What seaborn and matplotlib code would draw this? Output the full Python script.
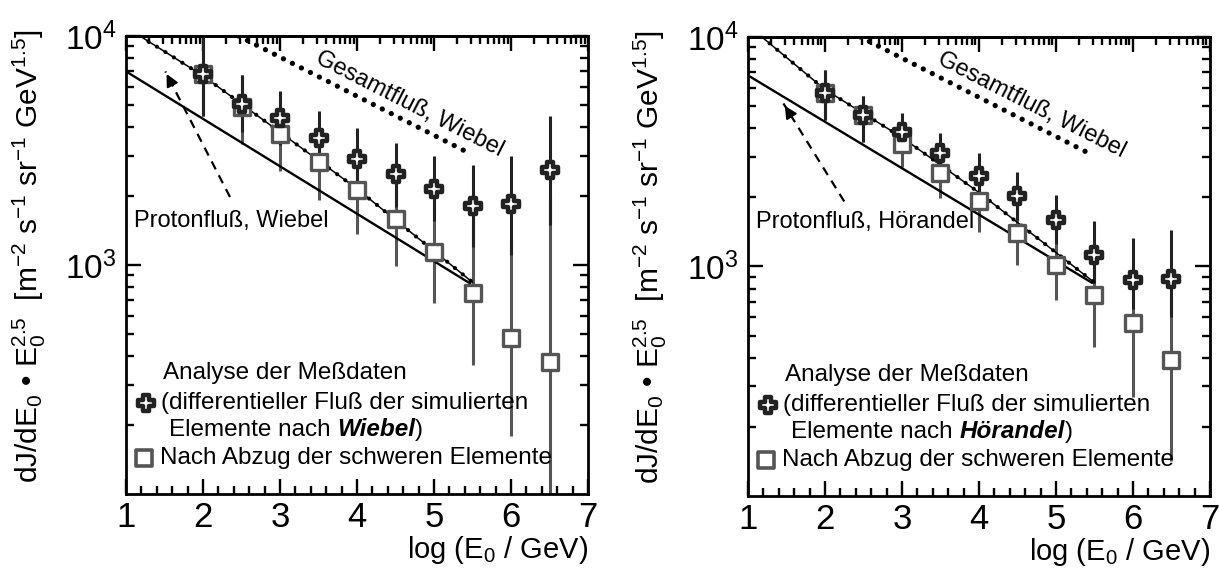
import matplotlib
matplotlib.use('Agg')
import matplotlib.pyplot as plt
import seaborn as sns
import pandas as pd
from matplotlib.ticker import MultipleLocator, FixedLocator, NullFormatter

# log(E0/GeV) of the measured points
energies = [2.0, 2.5, 3.0, 3.5, 4.0, 4.5, 5.0, 5.5, 6.0, 6.5]

# left panel: heavy elements after Wiebel
wiebel_cross = [6810, 5045, 4385, 3580, 2900, 2505, 2155, 1810, 1842, 2608]
wiebel_cross_hi = [12000, 6770, 5730, 4720, 3960, 3410, 2980, 2740, 3000, 4490]
wiebel_cross_lo = [4490, 3800, 3350, 2700, 2100, 1800, 1550, 1200, 1100, 1500]
wiebel_square = [6810, 4910, 3730, 2810, 2120, 1585, 1135, 753, 480, 378]
wiebel_square_hi = [12000, 6770, 5300, 4100, 3300, 2550, 1900, 1550, 1300, 2000]
wiebel_square_lo = [4490, 3380, 2570, 1930, 1360, 985, 685, 367, 179, 60]

# right panel: heavy elements after Hörandel
hoer_cross = [5710, 4560, 3860, 3135, 2480, 2030, 1595, 1125, 876, 880]
hoer_cross_hi = [7165, 5520, 4645, 3800, 3110, 2590, 2050, 1585, 1330, 1443]
hoer_cross_lo = [4350, 3495, 3300, 2600, 2000, 1600, 1250, 850, 650, 600]
hoer_square = [5710, 4560, 3410, 2565, 1920, 1397, 1010, 754, 567, 393]
hoer_square_hi = [7165, 5520, 4200, 3300, 2600, 2000, 1500, 1100, 900, 800]
hoer_square_lo = [4350, 3495, 2720, 1980, 1420, 1016, 713, 445, 269, 142]

# reference curves
proton_x = [1.0, 5.47]
wiebel_proton_y = [7000, 830]
hoer_proton_y = [6800, 848]
fit_x = [1.18, 2.0, 3.0, 4.0, 5.0, 5.5]
wiebel_fit_y = [10000, 6700, 3800, 2150, 1150, 840]
hoer_fit_y = [10000, 5900, 3650, 2100, 1150, 850]
total_x = [2.46, 5.39]
total_y = [10000, 3160]

# arrow (tail, head) for the proton flux label
wiebel_arrow = [(2.35, 1980), (1.51, 7000)]
hoer_arrow = [(2.25, 1920), (1.46, 5130)]

panels = [
    dict(cross=wiebel_cross, cross_hi=wiebel_cross_hi, cross_lo=wiebel_cross_lo,
         square=wiebel_square, square_hi=wiebel_square_hi, square_lo=wiebel_square_lo,
         proton=wiebel_proton_y, fit=wiebel_fit_y, arrow=wiebel_arrow,
         label='Protonfluß, Wiebel', model='Wiebel',
         rect=[0.1034, 0.1349, 0.379, 0.8021]),
    dict(cross=hoer_cross, cross_hi=hoer_cross_hi, cross_lo=hoer_cross_lo,
         square=hoer_square, square_hi=hoer_square_hi, square_lo=hoer_square_lo,
         proton=hoer_proton_y, fit=hoer_fit_y, arrow=hoer_arrow,
         label='Protonfluß, Hörandel', model='Hörandel',
         rect=[0.6136, 0.1314, 0.379, 0.8039]),
]

sns.set_theme(style='ticks')
plt.rcParams['font.family'] = ['Liberation Sans', 'DejaVu Sans']
plt.rcParams['mathtext.fontset'] = 'custom'
plt.rcParams['mathtext.rm'] = 'Liberation Sans'
plt.rcParams['mathtext.it'] = 'Liberation Sans:italic'
plt.rcParams['mathtext.bf'] = 'Liberation Sans:bold'
for key in ['text.color', 'axes.labelcolor', 'xtick.color', 'ytick.color', 'axes.edgecolor']:
    plt.rcParams[key] = 'black'

dark = '#222222'
grey = '#555555'

fig = plt.figure(figsize=(12.19, 5.71), dpi=100)
fig.set_facecolor('white')

for p in panels:
    ax = fig.add_axes(p['rect'])
    ax.set_facecolor('white')
    ax.set_yscale('log')

    # error bars
    ax.vlines(energies, p['square_lo'], p['square_hi'], colors=grey, lw=2.2, zorder=2)
    ax.vlines(energies, p['cross_lo'], p['cross_hi'], colors=dark, lw=2.2, zorder=2)

    # model curves
    sns.lineplot(x=proton_x, y=p['proton'], ax=ax, color='black', lw=1.7, zorder=3)
    sns.lineplot(x=fit_x, y=p['fit'], ax=ax, color='black', lw=1.1, zorder=3)
    sns.lineplot(x=fit_x, y=p['fit'], ax=ax, color='black', lw=3.0,
                 linestyle=(0, (0.01, 2.4)), dash_capstyle='round', zorder=3)
    sns.lineplot(x=total_x, y=total_y, ax=ax, color='black', lw=3.8,
                 linestyle=(0, (0.01, 1.9)), dash_capstyle='round', zorder=3)

    # data points
    df = pd.DataFrame({'E': energies, 'cross': p['cross'], 'square': p['square']})
    sns.scatterplot(data=df, x='E', y='square', ax=ax, marker='s', s=120,
                    color='white', edgecolor=grey, linewidth=2.4, zorder=4)
    sns.scatterplot(data=df, x='E', y='cross', ax=ax, marker='P', s=140,
                    color='white', edgecolor=dark, linewidth=3.2, zorder=5)

    # arrow to the proton line
    (tx, ty), (hx, hy) = p['arrow']
    ax.plot([tx, hx], [ty, hy], color='black', lw=1.6, linestyle=(0, (4, 3)), zorder=3)
    ax.annotate('', xy=(hx, hy), xytext=(hx + (tx - hx) * 0.08, hy * (ty / hy) ** 0.08),
                arrowprops=dict(arrowstyle='-|>', color='black', lw=1.5, mutation_scale=18))

    ax.text(1.1, 1560, p['label'], fontsize=17, ha='left', va='center')
    ax.text(4.68, 5050, 'Gesamtfluß, Wiebel', fontsize=17, ha='center', va='center',
            rotation=-27, rotation_mode='anchor')

    # legend by hand
    ax.scatter([0.043], [0.199], transform=ax.transAxes, marker='P', s=140,
               color='white', edgecolor=dark, linewidth=3.2, zorder=6)
    ax.scatter([0.039], [0.079], transform=ax.transAxes, marker='s', s=130,
               color='white', edgecolor=grey, linewidth=2.6, zorder=6)
    fs = 17.5
    ax.text(0.080, 0.264, 'Analyse der Meßdaten', transform=ax.transAxes,
            fontsize=fs, va='center')
    ax.text(0.076, 0.199, '(differentieller Fluß der simulierten', transform=ax.transAxes,
            fontsize=fs, va='center')
    t1 = ax.text(0.093, 0.140, 'Elemente nach ', transform=ax.transAxes,
                 fontsize=fs, va='center')
    t2 = ax.annotate(p['model'], xy=(1, 0), xycoords=t1, va='bottom', fontsize=fs,
                     fontweight='bold', fontstyle='italic')
    ax.annotate(')', xy=(1, 0), xycoords=t2, va='bottom', fontsize=fs)
    ax.text(0.074, 0.079, 'Nach Abzug der schweren Elemente', transform=ax.transAxes,
            fontsize=fs, va='center')

    # axes, ticks
    ax.set_xlim(1, 7)
    ax.set_ylim(100, 10000)
    ax.xaxis.set_major_locator(MultipleLocator(1))
    ax.xaxis.set_minor_locator(MultipleLocator(0.2))
    ax.yaxis.set_major_locator(FixedLocator([1e3, 1e4]))
    ax.yaxis.set_minor_locator(FixedLocator([k * 10 ** d for d in (2, 3) for k in range(2, 10)]))
    ax.yaxis.set_minor_formatter(NullFormatter())
    ax.tick_params(which='both', direction='in', left=True, right=True, top=False,
                   bottom=True, width=1.7, labelsize=25, pad=5)
    ax.tick_params(which='major', length=11)
    ax.tick_params(which='minor', length=6)
    ax.tick_params(axis='y', labelsize=24, pad=7)

    top = ax.secondary_xaxis('top')
    top.set_xticks(range(1, 8))
    top.set_xticks([n + k for n in range(1, 7) for k in
                    (0.301, 0.477, 0.602, 0.699, 0.778, 0.845, 0.903, 0.954)], minor=True)
    top.tick_params(which='both', direction='in', labeltop=False, width=1.7)
    top.tick_params(which='major', length=11)
    top.tick_params(which='minor', length=6)
    top.spines['top'].set_linewidth(2.0)

    for s in ax.spines.values():
        s.set_linewidth(2.0)
        s.set_color('black')

    ax.set_xlabel(r'log (E$_0$ / GeV)', fontsize=21, loc='right', labelpad=0)
    ax.set_ylabel(r'dJ/dE$_0$ • E$_0^{2.5}$  [m$^{-2}$ s$^{-1}$ sr$^{-1}$ GeV$^{1.5}$]',
                  fontsize=21.5)
    ax.yaxis.set_label_coords(-0.17, 0.52)

fig.savefig('out.png', dpi=100, facecolor='white')
